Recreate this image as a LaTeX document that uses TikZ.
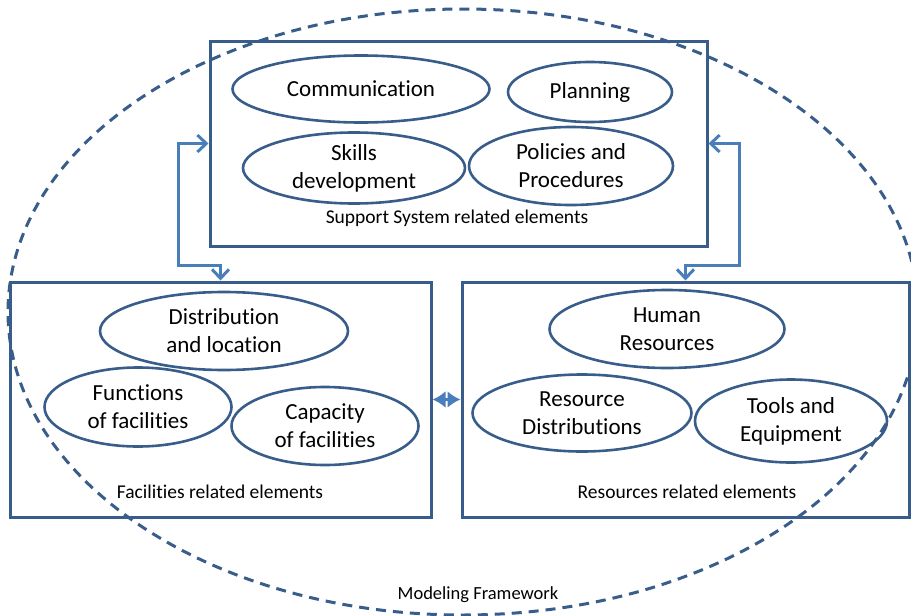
\documentclass[tikz,border=0pt]{standalone}
\usepackage{fontspec}
\setmainfont{Carlito}[Ligatures={NoCommon,NoContextual}]
\usetikzlibrary{shapes.geometric}
\usetikzlibrary{positioning}
\usetikzlibrary{arrows.meta}
\definecolor{boxblue}{RGB}{56,93,138}
\definecolor{linkblue}{RGB}{74,126,187}

\begin{document}
\begin{tikzpicture}[x=1pt,y=-1pt,
    basic/.style={draw=boxblue,line width=2.6pt,inner sep=0pt,align=center},
    element/.style={basic,ellipse,font=\fontsize{23}{28}\selectfont},
    group/.style={basic,rectangle,line width=3pt},
    caption/.style={font=\fontsize{19.5}{23}\selectfont},
    link/.style={draw=linkblue,line width=3pt,{Straight Barb[length=9pt,width=17pt]}-{Straight Barb[length=9pt,width=17pt]}},
    pair/.style={draw=linkblue,line width=3pt,{Latex[length=13pt,width=17pt]}-{Latex[length=13pt,width=17pt]}},
]
\useasboundingbox (0,0) rectangle (911,616);
% whole framework
\node[ellipse,draw=boxblue,line width=3pt,dash pattern=on 10pt off 7pt,minimum width=910,minimum height=606] (frame) at (463,312) {};
\node[caption,font=\fontsize{18.5}{22}\selectfont] (framelbl) at (478,595) {Modeling Framework};

% support system
\node[group,minimum width=497,minimum height=205] (support) at (458.5,143.5) {};
    \node[element,minimum width=257,minimum height=67] (comm) at (361,89) {Communication};
    \node[element,minimum width=164,minimum height=60] (plan) at (590,92) {Planning};
    \node[element,minimum width=222,minimum height=71] (skills) at (354,168) {Skills\\development};
    \node[element,minimum width=204,minimum height=78] (policy) at (571,166) {Policies and\\Procedures};
    \node[caption] (supportlbl) at (457,218) {Support System related elements};

% facilities
\node[group,minimum width=421,minimum height=235] (facil) at (220.5,399.5) {};
    \node[element,minimum width=248,minimum height=78] (distloc) at (224,331) {Distribution\\and location};
    \node[element,minimum width=187,minimum height=79] (func) at (138,407) {Functions\\of facilities};
    \node[element,minimum width=187,minimum height=78] (capac) at (325,426) {Capacity\\of facilities};
    \node[caption] (facillbl) at (220,492) {Facilities related elements};

% resources
\node[group,minimum width=447,minimum height=235] (resrc) at (685.5,399.5) {};
    \node[element,minimum width=235,minimum height=78] (human) at (667,329) {Human\\Resources};
    \node[element,minimum width=219,minimum height=77] (resdist) at (582,413) {Resource\\Distributions};
    \node[element,minimum width=192,minimum height=83] (tools) at (791,421) {Tools and\\Equipment};
    \node[caption] (resrclbl) at (687,492) {Resources related elements};

% links
\draw[link] (support.west) -- ++(-30,0) -- ++(0,122) -| (facil.north);
\draw[link] (support.east) -- ++(31,0) -- ++(0,122) -| (resrc.north);
\draw[pair] (facil.east) -- (resrc.west);
\end{tikzpicture}
\end{document}
